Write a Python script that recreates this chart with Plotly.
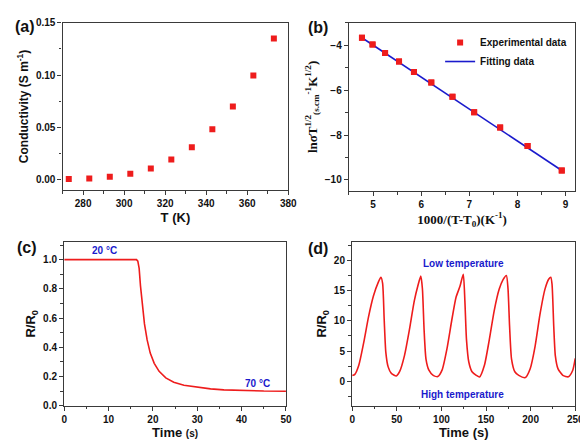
import plotly.graph_objects as go

# ---- data ----
# (a) conductivity vs temperature
temp_K = [273, 283, 293, 303, 313, 323, 333, 343, 353, 363, 373]
conductivity = [0.0006, 0.0012, 0.0028, 0.0056, 0.0106, 0.0193, 0.0311, 0.0482, 0.0700, 0.0996, 0.1350]

# (b) ln(sigma T^1/2) vs 1000/(T-T0)
inv_T = [4.77, 4.99, 5.25, 5.54, 5.85, 6.21, 6.65, 7.10, 7.64, 8.21, 8.92]
ln_sigma = [-3.67, -3.97, -4.35, -4.73, -5.19, -5.66, -6.30, -6.99, -7.67, -8.49, -9.58]
fit_x = [4.77, 8.92]
fit_y = [-3.67, -9.58]

# (c) R/R0 response 20 -> 70 C
time_c = [0, 5, 10, 15, 16.3, 16.6, 16.9, 17.2, 17.6, 18.1, 18.7, 19.4, 20.3, 21.4,
          22.9, 24.7, 27.0, 30, 33, 36, 40, 45, 50]
ratio_c = [1.0, 1.0, 1.0, 1.0, 1.0, 0.99, 0.94, 0.82, 0.69, 0.56, 0.45, 0.36, 0.29, 0.235,
           0.19, 0.16, 0.14, 0.125, 0.115, 0.108, 0.103, 0.100, 0.099]

# (d) cyclic R/R0
time_d = [0, 3.0, 7.4, 12.9, 18.3, 23.8, 29.3, 32.2, 34.1, 35.9, 37.7, 40.3, 43.9, 49.4,
          53.1, 58.6, 64.1, 69.6, 74.0, 76.9, 78.7, 80.6, 82.7, 86.0, 90.8, 95.9,
          100.7, 106.1, 111.6, 116.4, 120.8, 124.5, 126.3, 128.1, 130.7, 134.3, 139.1, 142.8,
          148.2, 153.7, 159.2, 164.7, 169.1, 172.8, 174.6, 176.4, 178.6, 182.3, 186.7, 194.0,
          199.5, 205.0, 210.5, 216.0, 220.4, 222.6, 224.0, 225.9, 227.7, 230.6, 236.1, 242.3,
          247.1, 250.0]
ratio_d = [0.96, 1.17, 2.66, 6.4, 10.66, 14.1, 16.4, 17.2, 16.2, 10.1, 4.8, 2.4, 1.33, 0.9,
           1.6, 4.26, 8.5, 13.3, 16.0, 17.4, 15.3, 8.5, 3.7, 1.86, 1.0, 0.8,
           1.86, 5.3, 10.1, 13.9, 15.7, 17.7, 13.3, 6.9, 3.2, 1.6, 1.0, 0.74,
           2.66, 6.9, 11.7, 15.2, 16.8, 17.5, 15.4, 9.1, 3.7, 1.6, 1.0, 0.64,
           2.1, 5.8, 11.1, 15.2, 16.9, 17.2, 16.0, 9.1, 4.2, 2.1, 1.0, 0.76,
           1.8, 3.8]

W, H = 588, 440
RED = "#ee1c1c"
BLUE = "#1a1acc"
AX = "#3a3a3a"

def dom_x(a, b):
    return [a / W, b / W]

def dom_y(top, bottom):
    return [1 - bottom / H, 1 - top / H]

titlefont = dict(family="Arial", size=13, color="#111")

def axis(dom, rng, dtick, minor_dtick, anchor, title, tfont=titlefont, standoff=4):
    return dict(domain=dom, range=rng, dtick=dtick, anchor=anchor,
                showgrid=False, zeroline=False, showline=True, linecolor=AX, linewidth=1.4,
                mirror=True, ticks="outside", ticklen=4, tickwidth=1.2, tickcolor=AX,
                minor=dict(dtick=minor_dtick, ticks="outside", ticklen=2.5, tickwidth=1, tickcolor=AX),
                tickfont=dict(family="Arial", size=10, color="#111", weight="bold"),
                title=dict(text=title, font=tfont, standoff=standoff))

fig = go.Figure()

fig.add_trace(go.Scatter(x=temp_K, y=conductivity, mode="markers",
                         marker=dict(symbol="square", size=6, color=RED),
                         xaxis="x", yaxis="y", showlegend=False))

fig.add_trace(go.Scatter(x=inv_T, y=ln_sigma, mode="markers", name="Experimental data",
                         marker=dict(symbol="square", size=6, color=RED),
                         xaxis="x2", yaxis="y2"))
fig.add_trace(go.Scatter(x=fit_x, y=fit_y, mode="lines", name="Fitting data",
                         line=dict(color=BLUE, width=1.6),
                         xaxis="x2", yaxis="y2"))
# redraw markers on top of line
fig.add_trace(go.Scatter(x=inv_T, y=ln_sigma, mode="markers", showlegend=False,
                         marker=dict(symbol="square", size=6, color=RED),
                         xaxis="x2", yaxis="y2", hoverinfo="skip"))

fig.add_trace(go.Scatter(x=time_c, y=ratio_c, mode="lines",
                         line=dict(color=RED, width=1.6),
                         xaxis="x3", yaxis="y3", showlegend=False))

fig.add_trace(go.Scatter(x=time_d, y=ratio_d, mode="lines",
                         line=dict(color=RED, width=1.6, shape="spline", smoothing=0.6),
                         xaxis="x4", yaxis="y4", showlegend=False))

serif_title = dict(family="Liberation Serif, Times New Roman, serif", size=13, color="#111")

fig.update_layout(
    width=W, height=H, margin=dict(l=0, r=0, t=0, b=0),
    paper_bgcolor="white", plot_bgcolor="white",
    xaxis=axis(dom_x(52.7, 283), [270, 380], 20, 10, "y", "<b>T (K)</b>"),
    yaxis=axis(dom_y(10, 181.7), [-0.01, 0.15], 0.05, 0.025, "x",
               "<b>Conductivity (S m<sup>-1</sup>)</b>",
               dict(family="Arial", size=12, color="#111")),
    xaxis2=axis(dom_x(345, 576), [4.5, 9.2], 1, 0.5, "y2",
                "<b>1000/(T-T<sub>0</sub>)(K<sup>-1</sup>)</b>", serif_title),
    yaxis2=axis(dom_y(10, 182.7), [-10.5, -3], 2, 1, "x2",
                "<b>lnσT<sup>1/2</sup><sub>(s.cm</sub><sup>-1</sup>K<sup>1/2</sup>)</b>", serif_title),
    xaxis3=axis(dom_x(54.3, 280.7), [0, 50], 10, 5, "y3",
                "<b>Time <span style='font-size:10px'>(s)</span></b>"),
    yaxis3=axis(dom_y(235, 402.7), [0, 1.12], 0.2, 0.1, "x3", "<b>R/R<sub>0</sub></b>"),
    xaxis4=axis(dom_x(348.3, 576), [0, 250], 50, 25, "y4", "<b>Time (s)</b>"),
    yaxis4=axis(dom_y(235, 402.7), [-4, 23], 5, 2.5, "x4", "<b>R/R<sub>0</sub></b>"),
    legend=dict(x=0.745, y=0.965, xanchor="left", yanchor="top",
                bgcolor="rgba(0,0,0,0)", tracegroupgap=0,
                font=dict(family="Arial", size=10, color="#111", weight="bold"), itemwidth=30),
)

fig.layout.yaxis.tickformat = ".2f"
fig.layout.yaxis3.tickformat = ".1f"

def label(text, x, y, size=16, color="#111", font="Arial"):
    fig.add_annotation(text=text, x=x / W, y=1 - y / H, xref="paper", yref="paper",
                       showarrow=False, font=dict(family=font, size=size, color=color),
                       xanchor="center", yanchor="middle")

label("<b>(a)</b>", 14, 14)
label("<b>(b)</b>", 313, 15)
label("<b>(c)</b>", 16, 241)
label("<b>(d)</b>", 313, 242)
label("<b>20 °C</b>", 95, 244, size=10, color=BLUE)
label("<b>70 °C</b>", 252, 380, size=10, color=BLUE)
label("<b>Low temperature</b>", 462, 257, size=10, color=BLUE)
label("<b>High temperature</b>", 461, 391, size=10, color=BLUE)

fig.write_html("out.html")
